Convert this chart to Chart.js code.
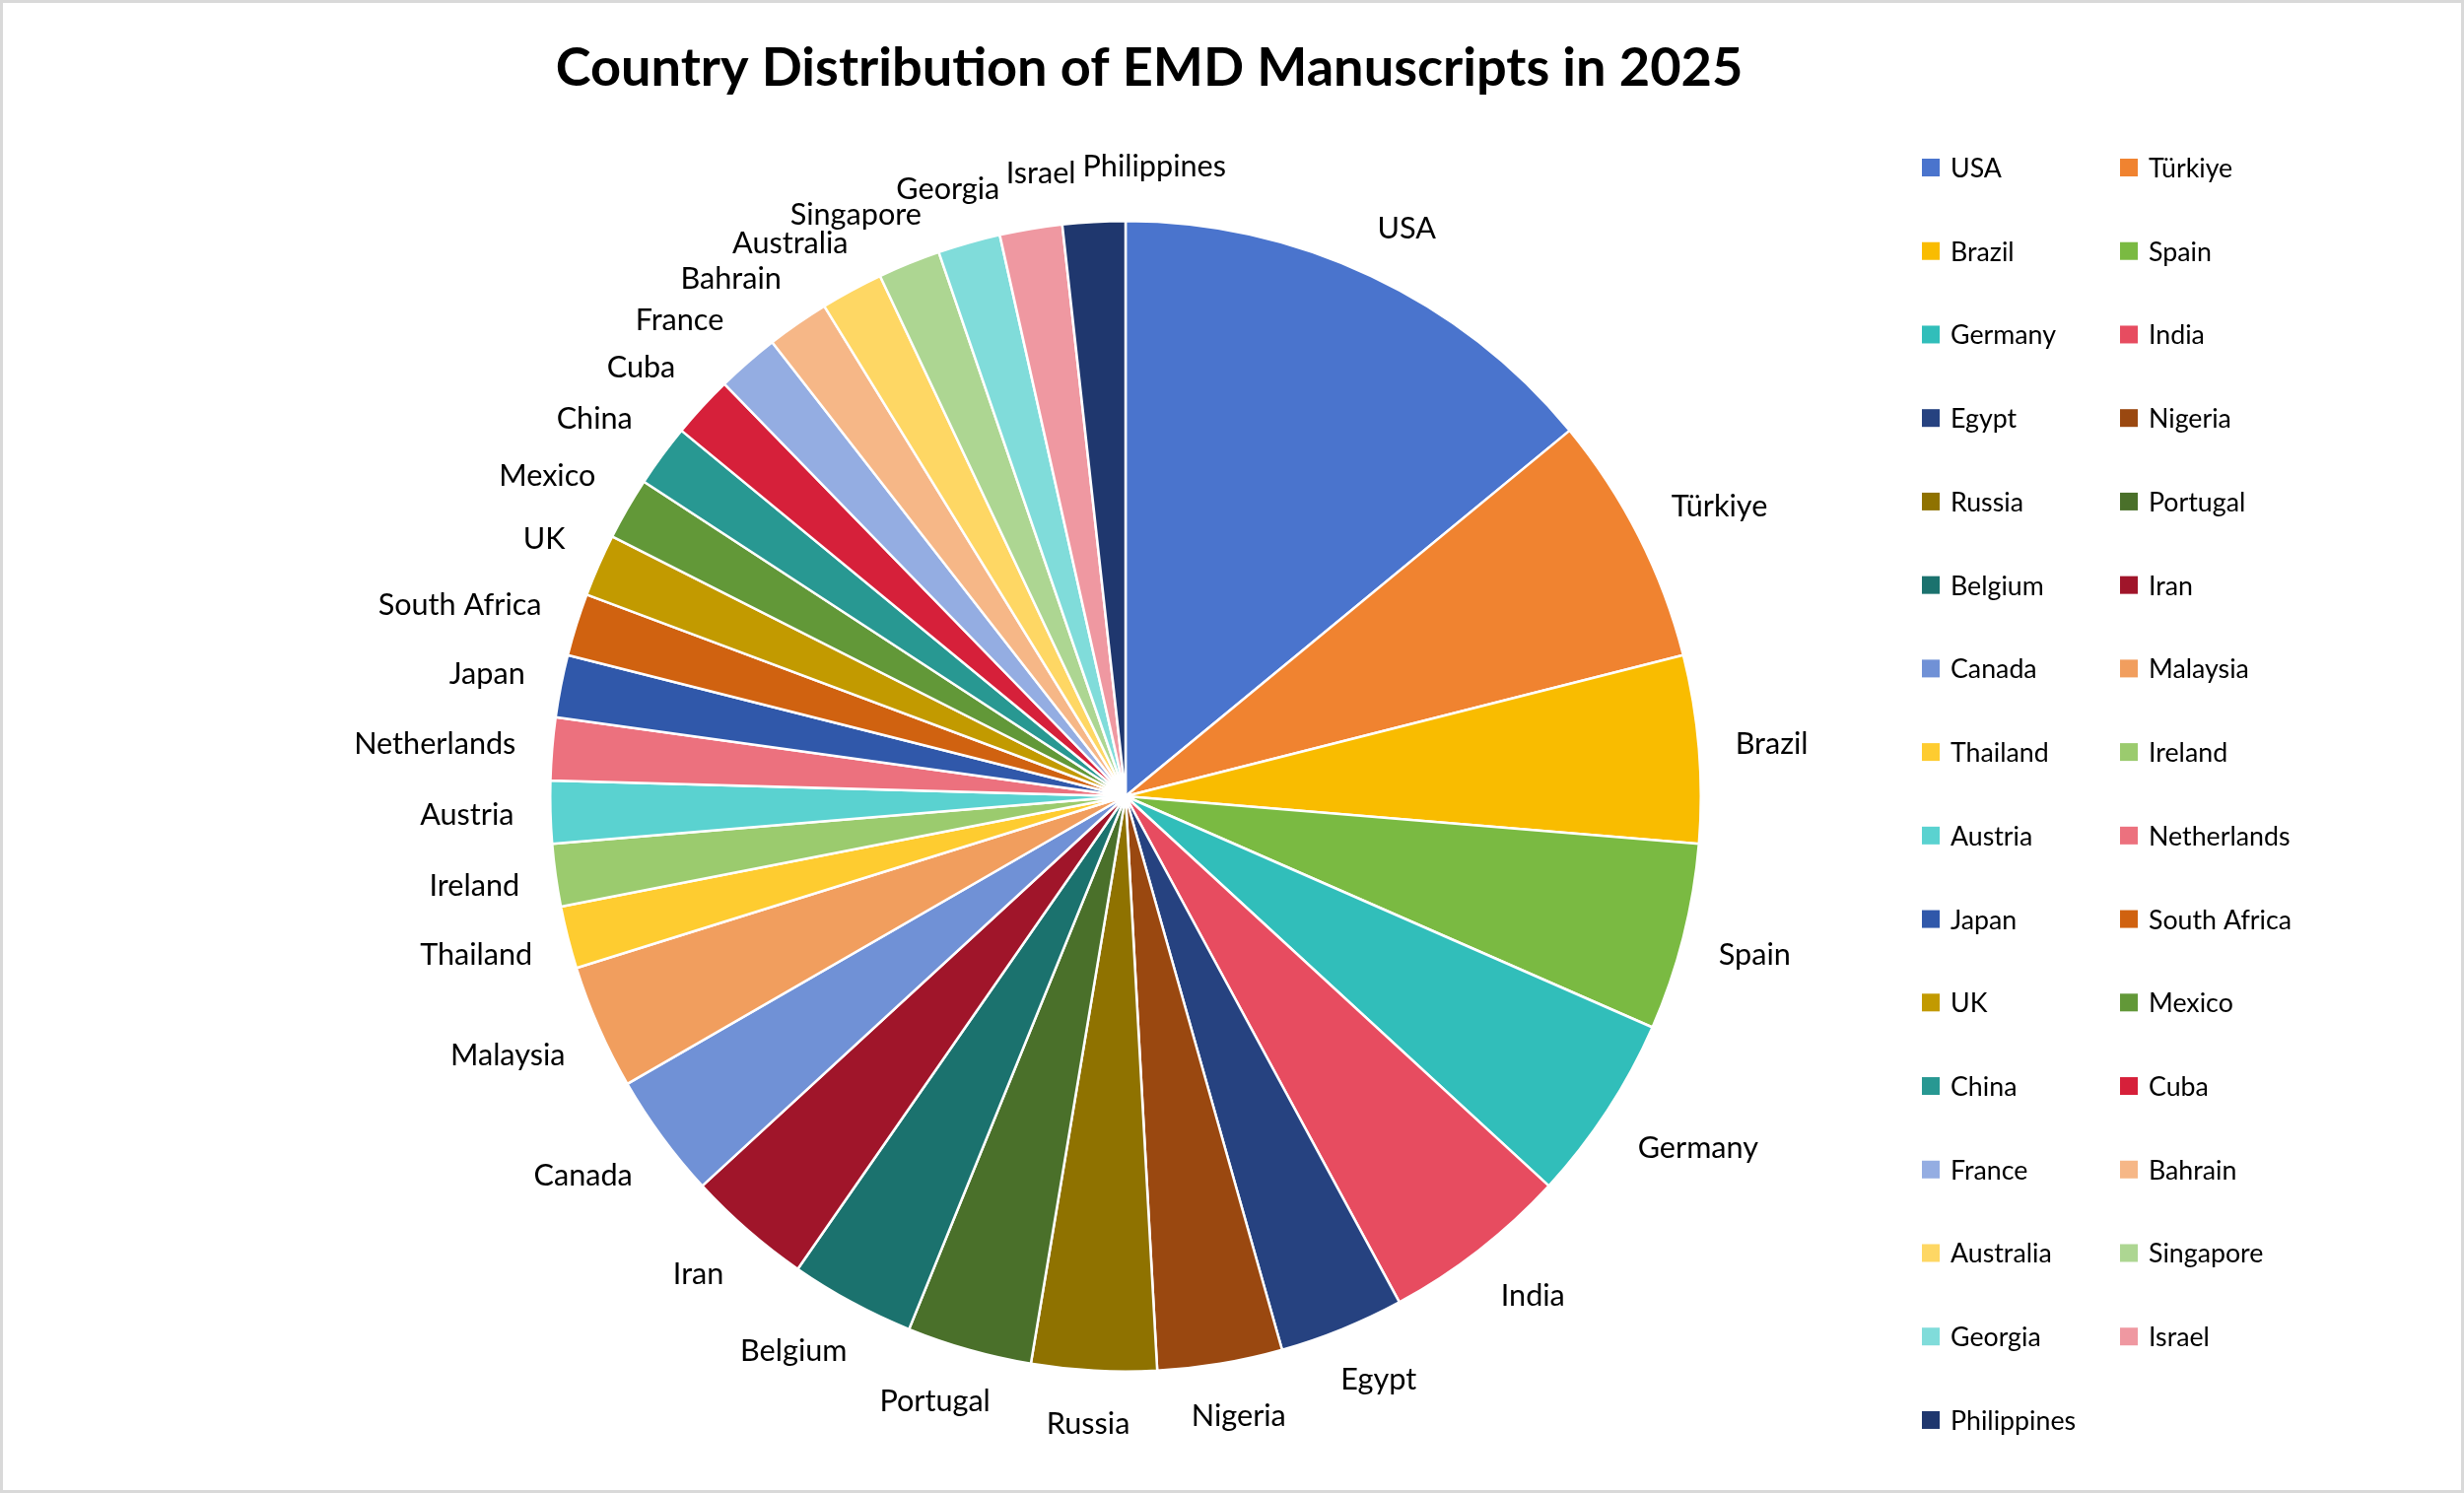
<!DOCTYPE html>
<html>
<head>
<meta charset="utf-8">
<script src="https://cdn.jsdelivr.net/npm/chart.js@4.4.1/dist/chart.umd.min.js"></script>
<style>
html,body{margin:0;padding:0;background:#ffffff;}
#wrap{position:relative;width:2500px;height:1515px;}
canvas{display:block;}
</style>
</head>
<body>
<div id="wrap"><canvas id="c" width="2500" height="1515"></canvas></div>
<script>
// ---------- data ----------
const chartTitle = 'Country Distribution of EMD Manuscripts in 2025';
const countries = ['USA','Türkiye','Brazil','Spain','Germany','India','Egypt','Nigeria','Russia','Portugal',
  'Belgium','Iran','Canada','Malaysia','Thailand','Ireland','Austria','Netherlands','Japan','South Africa',
  'UK','Mexico','China','Cuba','France','Bahrain','Australia','Singapore','Georgia','Israel','Philippines'];
const manuscripts = [8,4,3,3,3,3,2,2,2,2,
  2,2,2,2,1,1,1,1,1,1,
  1,1,1,1,1,1,1,1,1,1,1];
const sliceColors = ['#4A74CD','#F08330','#F9BC00','#7ABA42','#31BEBA','#E74C60','#264280','#9A4810','#8F7200','#4A702A',
  '#1B726E','#A0152A','#7091D6','#F19E5E','#FECC30','#9BCB6E','#5AD2D0','#EC717E','#3058AA','#D06210',
  '#C29A00','#629838','#289892','#D6203A','#94ADE2','#F6B787','#FED764','#ADD692','#80DCDA','#EF98A1','#1F376E'];

// ---------- styling ----------
const FAM = 'Lato, "Open Sans", "DejaVu Sans", sans-serif';
const mctx = document.createElement('canvas').getContext('2d');
function fitSize(text, weight, target){
  mctx.font = weight + ' 100px ' + FAM;
  return 100 * target / mctx.measureText(text).width;
}
function capHeight(size, weight){
  mctx.font = weight + ' ' + size + 'px ' + FAM;
  return mctx.measureText('H').actualBoundingBoxAscent;
}
const titleSize = fitSize(chartTitle, 'bold', 1205);
const labelSize = fitSize('South Africa', 'normal', 166);
const legendSize = fitSize('South Africa', 'normal', 145);
const TITLE_Y = 70;
const TITLE_CX = 1166;
const AREA_TOP = 223;
const titlePadTop = TITLE_Y - titleSize * 1.2 / 2;
const titlePadBottom = AREA_TOP - titlePadTop - titleSize * 1.2;

const LEG = {x0: 1950, dx: 201, y0: 170, dy: 84.73, box: 18, textGap: 11};

const titleShiftPlugin = {
  id: 'titleShift',
  afterLayout(chart){
    const tb = chart.titleBlock;
    if (tb){ tb.left = TITLE_CX - 750; tb.right = TITLE_CX + 750; tb.width = 1500; }
  }
};

const legendPlugin = {
  id: 'gridLegend',
  afterDraw(chart){
    const ctx = chart.ctx;
    ctx.save();
    ctx.font = 'normal ' + legendSize + 'px ' + FAM;
    ctx.textBaseline = 'alphabetic';
    ctx.textAlign = 'left';
    const ch = capHeight(legendSize, 'normal');
    const labels = chart.data.labels;
    const cols = chart.data.datasets[0].backgroundColor;
    labels.forEach((name, i) => {
      const col = i % 2, row = Math.floor(i / 2);
      const x = LEG.x0 + col * LEG.dx;
      const y = LEG.y0 + row * LEG.dy;
      ctx.fillStyle = cols[i];
      ctx.fillRect(x, y - LEG.box / 2, LEG.box, LEG.box);
      ctx.fillStyle = '#000000';
      ctx.fillText(name, x + LEG.box + LEG.textGap, y + ch / 2);
    });
    // outer frame
    ctx.strokeStyle = '#D9D9D9';
    ctx.lineWidth = 3;
    ctx.strokeRect(1.5, 1.5, chart.width - 3, chart.height - 3);
    ctx.restore();
  }
};

const labelPlugin = {
  id: 'sliceLabels',
  afterDatasetsDraw(chart){
    const ctx = chart.ctx;
    const meta = chart.getDatasetMeta(0);
    ctx.save();
    ctx.font = 'normal ' + labelSize + 'px ' + FAM;
    const ch = capHeight(labelSize, 'normal');
    const boxH = 32, gap = 37;
    const clamp = v => Math.max(-1, Math.min(1, v));
    const items = meta.data.map((arc, i) => {
      const p = arc.getProps(['x','y','startAngle','endAngle','outerRadius'], true);
      const a = (p.startAngle + p.endAngle) / 2;
      const ux = Math.cos(a), uy = Math.sin(a);
      const text = chart.data.labels[i];
      const w = ctx.measureText(text).width;
      const r0 = p.outerRadius + gap;
      return {text, a, w,
        cx: p.x + r0 * ux + (w / 2) * clamp(1.6 * ux),
        cy: p.y + r0 * uy + (boxH / 2) * clamp(2 * uy)};
    });
    const collH = ch * 1.15, padX = 6;
    const overlap = (A, B) => Math.abs(A.cx - B.cx) < (A.w + B.w) / 2 + padX && Math.abs(A.cy - B.cy) < collH;
    for (let k = 1; k < items.length; k++){
      const prev = items[k - 1], cur = items[k];
      const tx = -Math.sin(cur.a), ty = Math.cos(cur.a);
      let guard = 0;
      while (overlap(prev, cur) && guard++ < 300){ cur.cx += tx * 2; cur.cy += ty * 2; }
    }
    ctx.fillStyle = '#000000';
    ctx.textAlign = 'center';
    ctx.textBaseline = 'alphabetic';
    items.forEach(it => ctx.fillText(it.text, it.cx, it.cy + ch / 2));
    ctx.restore();
  }
};

new Chart(document.getElementById('c'), {
  type: 'pie',
  data: {
    labels: countries,
    datasets: [{
      data: manuscripts,
      backgroundColor: sliceColors,
      borderColor: '#FFFFFF',
      borderWidth: 2.5
    }]
  },
  options: {
    responsive: false,
    devicePixelRatio: 1,
    animation: false,
    events: [],
    layout: {padding: {top: 0, left: 557, right: 773, bottom: 122}},
    plugins: {
      legend: {display: false},
      tooltip: {enabled: false},
      title: {
        display: true,
        text: chartTitle,
        color: '#000000',
        font: {family: FAM, size: titleSize, weight: 'bold', lineHeight: 1.2},
        padding: {top: titlePadTop, bottom: titlePadBottom}
      }
    }
  },
  plugins: [titleShiftPlugin, labelPlugin, legendPlugin]
});
</script>
</body>
</html>
